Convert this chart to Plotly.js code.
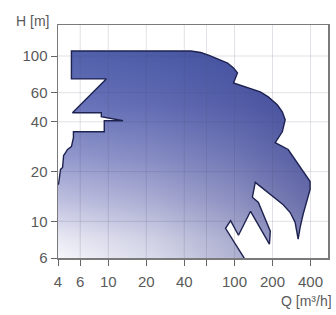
<!DOCTYPE html>
<html><head><meta charset="utf-8">
<script src="https://cdn.plot.ly/plotly-3.0.1.min.js"></script>
<style>html,body{margin:0;padding:0;background:#fff;}#chart{width:336px;height:315px;}</style>
</head><body><div id="chart"></div>
<script>
// Pump operating range outline (Q in m3/h, H in m), traced clockwise
const flowQ = [3.5, 3.5, 4.04, 4.19, 4.35, 4.43, 4.59, 4.76, 5.11, 5.30, 5.30, 9.30, 9.30, 13.1, 8.81, 8.81, 5.21, 9.64, 5.11, 5.11,
  45.1, 54.0, 63.0, 75.0, 88.1, 98.2, 105.6, 98.2, 126.5, 160, 185, 218, 239, 252, 239, 210, 266, 331, 397, 397, 376, 349, 331, 319,
  302, 276, 243, 182, 146, 138.6, 154.5, 192, 189, 134, 107.5, 93.1, 84.9, 118, 128, 3.5];
const headH = [5.5, 16.8, 16.8, 20.6, 21.2, 25.0, 26.0, 27.2, 28.3, 32.1, 34.8, 34.8, 40.6, 40.6, 42.9, 45.4, 45.4, 72.7, 72.7, 107.2,
  107.2, 105.0, 101.0, 95.5, 90.7, 84.7, 79.0, 68.7, 64.1, 60.7, 56.6, 50.7, 46.0, 41.1, 34.8, 29.9, 27.2, 21.4, 17.4, 15.6, 13.6, 11.0, 9.2, 7.8,
  9.86, 11.3, 12.6, 15.0, 17.2, 14.0, 13.0, 8.71, 7.27, 11.5, 8.24, 10.1, 9.07, 6.07, 5.5, 5.5];
const xTickVals = [4, 6, 10, 20, 40, 60, 100, 200, 400];
const xTickText = ['4', '6', '10', '20', '40', '', '100', '200', '400'];
const yTickVals = [6, 10, 20, 40, 60, 100];
const yTickText = ['6', '10', '20', '40', '60', '100'];
const xTitle = 'Q [m³/h]';
const yTitle = 'H [m]';

const FONT = '"Liberation Sans", Arial, sans-serif';

const base = {
  type: 'scatter', mode: 'lines', x: flowQ, y: headH, fill: 'toself',
  fillgradient: {type: 'vertical', colorscale: [[0, '#fbfbfd'], [0.12, '#ebebf5'], [0.3, '#c0c1e0'], [0.5, '#959bce'], [0.75, '#6a75bb'], [1, '#5262ad']]},
  line: {width: 0, color: 'rgba(0,0,0,0)'}, hoverinfo: 'skip', showlegend: false
};
const shade = {
  type: 'scatter', mode: 'lines', x: flowQ, y: headH, fill: 'toself',
  fillgradient: {type: 'horizontal', colorscale: [[0, 'rgba(40,48,130,0)'], [0.4, 'rgba(40,48,130,0.15)'], [0.7, 'rgba(40,48,130,0.33)'], [1, 'rgba(40,48,130,0.58)']]},
  line: {color: '#1e2250', width: 1.4}, hoverinfo: 'skip', showlegend: false
};

const gridStyle = {color: 'rgba(80,80,115,0.17)', width: 1};
const shapes = [
  ...xTickVals.slice(1).map(v => ({type: 'line', xref: 'x', yref: 'paper', x0: v, x1: v, y0: 0, y1: 1, layer: 'above', line: gridStyle})),
  ...yTickVals.slice(1).map(v => ({type: 'line', xref: 'paper', yref: 'y', x0: 0, x1: 1, y0: v, y1: v, layer: 'above', line: gridStyle}))
];

const axisCommon = {
  type: 'log', showgrid: false, zeroline: false, showline: true, mirror: true,
  linecolor: '#7a7a7a', linewidth: 1.5, ticks: 'outside', ticklen: 6, tickwidth: 1, tickcolor: '#666',
  tickfont: {family: FONT, size: 15, color: '#5a5a5a'}, tickmode: 'array'
};

const layout = {
  width: 336, height: 315,
  margin: {l: 58, r: 8, t: 25, b: 57},
  paper_bgcolor: '#fff', plot_bgcolor: '#fff',
  font: {family: FONT, color: '#5a5a5a'},
  xaxis: Object.assign({}, axisCommon, {range: [Math.log10(4), Math.log10(550)], tickvals: xTickVals, ticktext: xTickText, ticklabelstandoff: 3}),
  yaxis: Object.assign({}, axisCommon, {range: [Math.log10(6), Math.log10(154)], tickvals: yTickVals, ticktext: yTickText}),
  shapes: shapes,
  annotations: [
    {text: yTitle, xref: 'paper', yref: 'paper', x: -0.093, y: 1.017, xanchor: 'center', yanchor: 'middle', showarrow: false, font: {family: FONT, size: 14, color: '#5a5a5a'}},
    {text: xTitle, xref: 'paper', yref: 'paper', x: 1.022, y: -0.185, xanchor: 'right', yanchor: 'middle', showarrow: false, font: {family: FONT, size: 14, color: '#5a5a5a'}}
  ],
  showlegend: false
};

Plotly.newPlot('chart', [base, shade], layout, {displayModeBar: false, staticPlot: true});
</script>
</body></html>
